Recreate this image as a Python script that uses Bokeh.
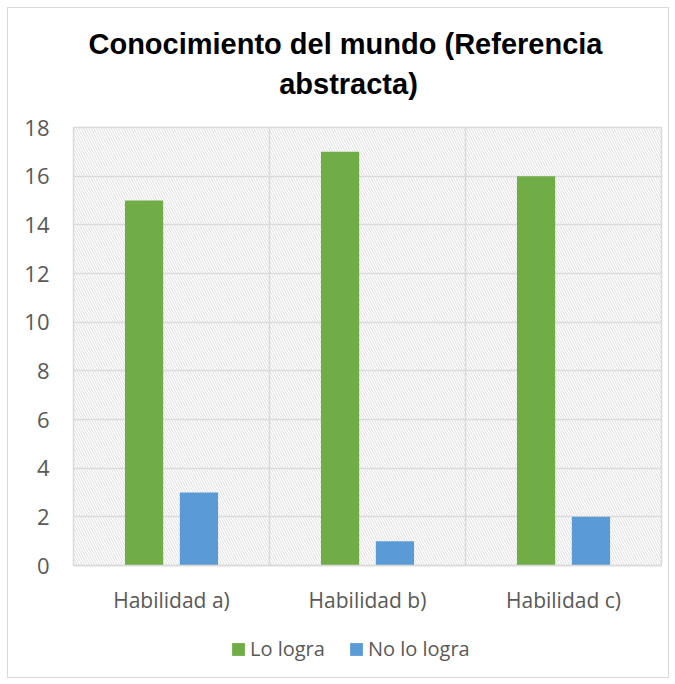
from bokeh.plotting import figure
from bokeh.models import (ColumnDataSource, FactorRange, Range1d, Label, Legend, LegendItem,
                          BoxAnnotation, Span, SingleIntervalTicker)
from bokeh.layouts import column
from bokeh.transform import dodge
from bokeh.embed import file_html
from bokeh.resources import INLINE

categories = ["Habilidad a)", "Habilidad b)", "Habilidad c)"]
lo_logra = [15, 17, 16]
no_lo_logra = [3, 1, 2]
series_names = ["Lo logra", "No lo logra"]
title_lines = ["Conocimiento del mundo  (Referencia", "abstracta)"]

GREEN = "#70AD47"
BLUE = "#5B9BD5"
GRID = "#d9d9d9"
TXT = "#595959"
W = 660

# ---------- title strip ----------
tfig = figure(width=W, height=103, x_range=Range1d(0, 1), y_range=Range1d(0, 1),
              min_border=0, x_axis_location=None, y_axis_location=None,
              output_backend="svg", toolbar_location=None, title=None)
tfig.outline_line_color = None
tfig.grid.visible = False
for txt, xpos, ypos in zip(title_lines, [276, 275], [68, 28]):
    tfig.add_layout(Label(x=xpos, y=ypos, x_units="screen", y_units="screen", text=txt,
                          text_align="center", text_baseline="alphabetic",
                          text_font="Liberation Sans", text_font_style="bold",
                          text_font_size="29px", text_color="#000000"))

# ---------- main chart ----------
src = ColumnDataSource(dict(cat=categories, lo=lo_logra, no=no_lo_logra))

p = figure(x_range=FactorRange(*categories), y_range=(0, 18),
           frame_width=588, frame_height=438,
           min_border_left=65, min_border_right=7, min_border_top=16, min_border_bottom=55,
           output_backend="svg", toolbar_location=None, title=None)

p.add_layout(BoxAnnotation(left=None, right=None, bottom=None, top=None,
                           fill_alpha=0, line_alpha=0, hatch_pattern="\\",
                           hatch_color="#dedede", hatch_scale=5, hatch_weight=1,
                           level="underlay"))

for loc in [1, 2]:
    p.add_layout(Span(location=loc, dimension="height", line_color=GRID, line_width=1.5,
                      level="underlay"))

r1 = p.vbar(x=dodge("cat", -0.14, range=p.x_range), top="lo", width=0.195,
            source=src, fill_color=GREEN, line_color=None)
r2 = p.vbar(x=dodge("cat", 0.14, range=p.x_range), top="no", width=0.195,
            source=src, fill_color=BLUE, line_color=None)

p.xgrid.visible = False
p.ygrid.grid_line_color = GRID
p.ygrid.grid_line_width = 1.5
p.outline_line_color = GRID
p.outline_line_width = 1.5
p.background_fill_color = "white"
p.border_fill_color = "white"

p.yaxis.ticker = SingleIntervalTicker(interval=2)
p.yaxis.axis_line_color = None
p.yaxis.major_tick_line_color = None
p.yaxis.minor_tick_line_color = None
p.yaxis.major_label_standoff = 18
p.yaxis.major_label_text_font = "Open Sans"
p.yaxis.major_label_text_font_size = "22px"
p.yaxis.major_label_text_color = TXT

p.xaxis.axis_line_color = GRID
p.xaxis.axis_line_width = 1.5
p.xaxis.major_tick_line_color = None
p.xaxis.minor_tick_line_color = None
p.xaxis.major_label_standoff = 14
p.xaxis.major_label_text_font = "Open Sans"
p.xaxis.major_label_text_font_size = "21px"
p.xaxis.major_label_text_color = TXT

# ---------- legend strip ----------
lfig = figure(width=W, height=57, x_range=Range1d(0, 1), y_range=Range1d(0, 1),
              min_border=0, x_axis_location=None, y_axis_location=None,
              output_backend="svg", toolbar_location=None, title=None)
lfig.outline_line_color = None
lfig.grid.visible = False
# off-screen swatch glyphs that only feed the legend
swatch = ColumnDataSource(dict(x=[-10], top=[-10]))
l1 = lfig.vbar(x="x", top="top", width=0.1, source=swatch, fill_color=GREEN, line_color=None)
l2 = lfig.vbar(x="x", top="top", width=0.1, source=swatch, fill_color=BLUE, line_color=None)
legend = Legend(items=[LegendItem(label=series_names[0], renderers=[l1]),
                       LegendItem(label=series_names[1], renderers=[l2])],
                orientation="horizontal", location=(157, 15),
                label_text_font="Open Sans", label_text_font_size="20px",
                label_text_color=TXT, glyph_width=16, glyph_height=16,
                spacing=23, label_standoff=4, border_line_color=None,
                background_fill_alpha=0, margin=0, padding=0)
lfig.add_layout(legend, "center")

layout = column(tfig, p, lfig, spacing=0,
                styles={"margin": "7px 0 0 7px", "border": "1px solid #d9d9d9"})

open("out.html", "w").write(file_html(layout, INLINE))
